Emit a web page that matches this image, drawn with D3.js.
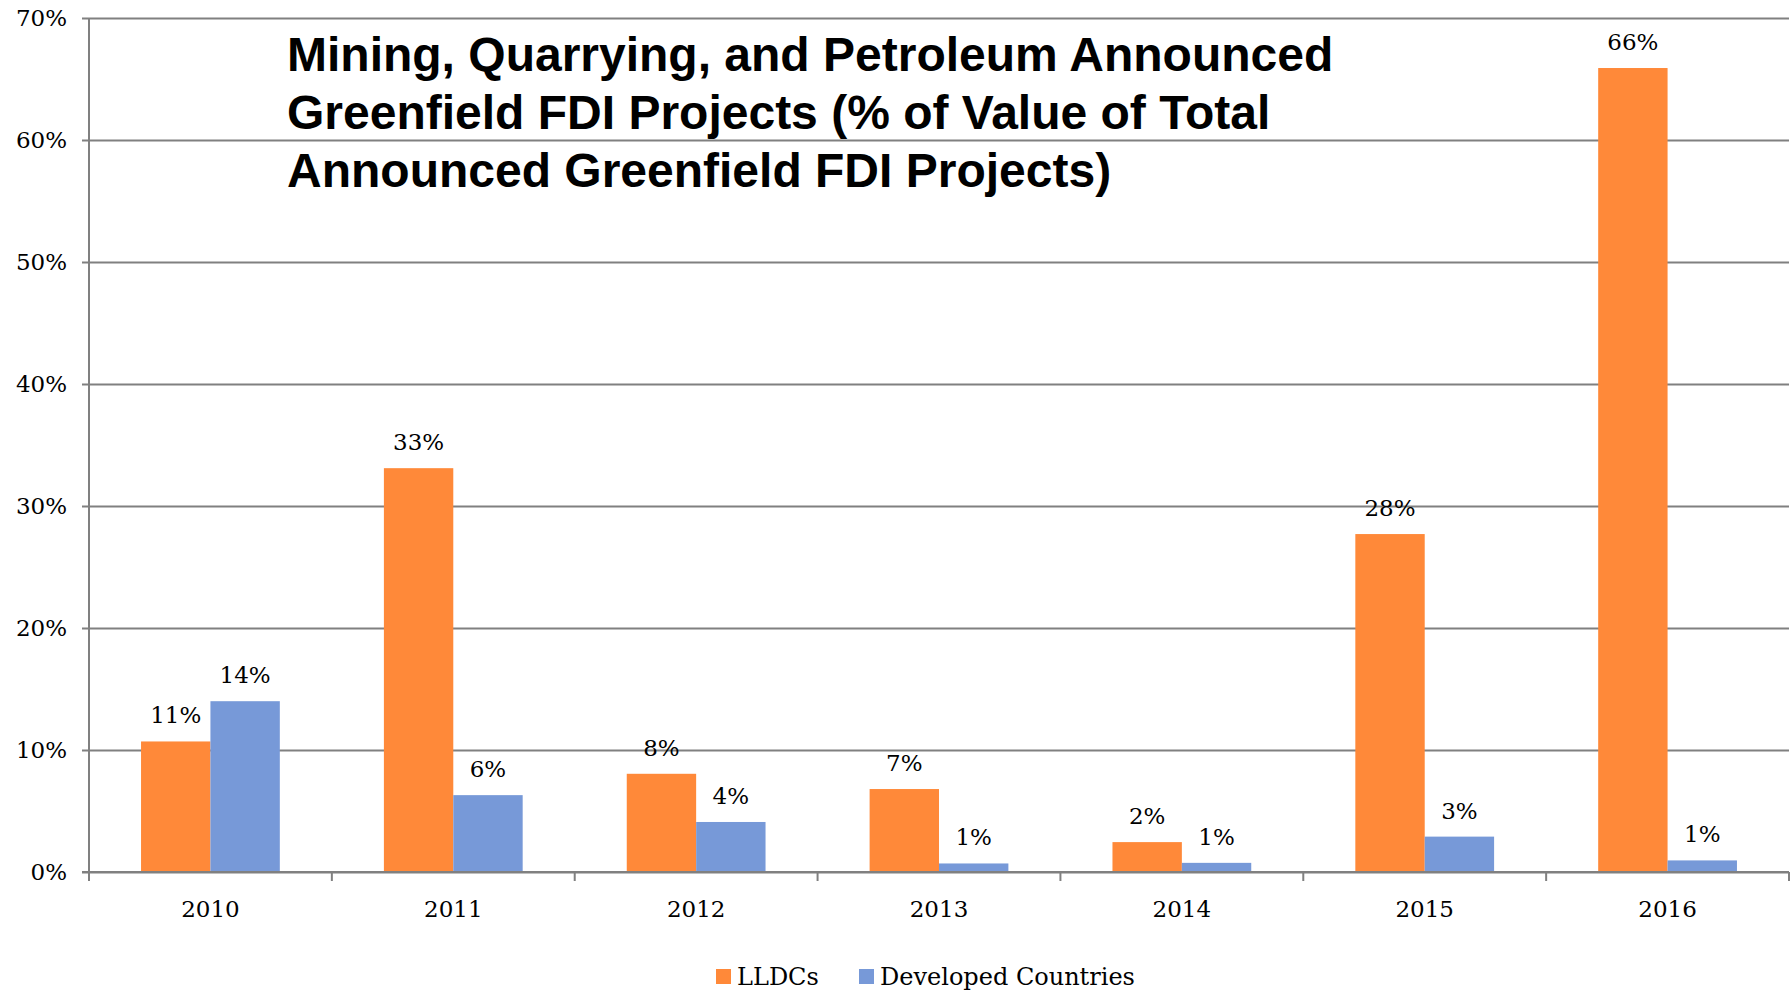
<!DOCTYPE html>
<meta charset="utf-8">
<script src="https://d3js.org/d3.v7.min.js"></script>
<style>
  body { margin: 0; background: #fff; }
  .tick text { font-family: "DejaVu Serif", serif; }
</style>
<body>
<svg id="chart" width="1791" height="991"></svg>
<script>
// data
var years = ["2010", "2011", "2012", "2013", "2014", "2015", "2016"];
var seriesNames = ["LLDCs", "Developed Countries"];
var lldcs = [10.7, 33.1, 8.05, 6.8, 2.45, 27.7, 65.9];
var developed = [14.0, 6.3, 4.1, 0.7, 0.75, 2.9, 0.95];
var lldcLabels = ["11%", "33%", "8%", "7%", "2%", "28%", "66%"];
var devLabels = ["14%", "6%", "4%", "1%", "1%", "3%", "1%"];
var yTicks = [0, 10, 20, 30, 40, 50, 60, 70];
var titleLines = ["Mining, Quarrying, and Petroleum Announced",
                  "Greenfield FDI Projects (% of Value of Total",
                  "Announced Greenfield FDI Projects)"];

var colors = {"LLDCs": "#ff8939", "Developed Countries": "#7799d8"};

var plotLeft = 89, plotRight = 1789, plotTop = 18, plotBottom = 872;

var svg = d3.select("#chart");

var x0 = d3.scaleBand().domain(years).range([plotLeft, plotRight]);
var bw = x0.bandwidth();
var gap = bw * 0.75 / 3.5;
var x1 = d3.scaleBand().domain(seriesNames).range([gap, bw - gap]);
var y = d3.scaleLinear().domain([0, 70]).range([plotBottom, plotTop]);

// gridlines + y axis labels
var yAxis = svg.append("g")
  .attr("transform", "translate(" + plotLeft + ",0)")
  .call(d3.axisLeft(y).tickValues(yTicks).tickSize(-(plotRight - plotLeft)).tickPadding(22)
    .tickFormat(function(d) { return d + "%"; }));
yAxis.select(".domain").remove();
yAxis.selectAll(".tick line").attr("stroke", "#808080").attr("stroke-width", 2).attr("x1", -7);
yAxis.selectAll(".tick text").attr("font-size", 23).attr("fill", "#000");

// y axis line
svg.append("line")
  .attr("x1", plotLeft).attr("x2", plotLeft).attr("y1", plotTop).attr("y2", plotBottom)
  .attr("stroke", "#808080").attr("stroke-width", 2);

var rows = years.map(function(yr, i) {
  return {year: yr, vals: [
    {s: "LLDCs", v: lldcs[i], label: lldcLabels[i]},
    {s: "Developed Countries", v: developed[i], label: devLabels[i]}
  ]};
});

var groups = svg.append("g").selectAll("g")
  .data(rows).enter().append("g")
  .attr("transform", function(d) { return "translate(" + x0(d.year) + ",0)"; });

groups.selectAll("rect")
  .data(function(d) { return d.vals; }).enter().append("rect")
  .attr("x", function(d) { return x1(d.s); })
  .attr("width", x1.bandwidth())
  .attr("y", function(d) { return y(d.v); })
  .attr("height", function(d) { return y(0) - y(d.v); })
  .attr("fill", function(d) { return colors[d.s]; });

groups.selectAll("text")
  .data(function(d) { return d.vals; }).enter().append("text")
  .attr("x", function(d) { return x1(d.s) + x1.bandwidth() / 2; })
  .attr("y", function(d) { return y(d.v) - 18; })
  .attr("text-anchor", "middle")
  .attr("font-family", "DejaVu Serif, serif")
  .attr("font-size", 23)
  .text(function(d) { return d.label; });

// x axis
var xAxis = svg.append("g")
  .attr("transform", "translate(0," + plotBottom + ")")
  .call(d3.axisBottom(x0).tickSize(0).tickPadding(29));
xAxis.select(".domain").remove();
xAxis.selectAll(".tick text").attr("font-size", 23).attr("fill", "#000");

svg.append("line")
  .attr("x1", plotLeft - 7).attr("x2", plotRight).attr("y1", plotBottom).attr("y2", plotBottom)
  .attr("stroke", "#808080").attr("stroke-width", 2);

svg.append("g").selectAll("line")
  .data(d3.range(years.length + 1)).enter().append("line")
  .attr("x1", function(i) { return plotLeft + i * bw; })
  .attr("x2", function(i) { return plotLeft + i * bw; })
  .attr("y1", plotBottom).attr("y2", plotBottom + 9)
  .attr("stroke", "#808080").attr("stroke-width", 2);

// title
svg.append("g").selectAll("text")
  .data(titleLines).enter().append("text")
  .attr("x", 287)
  .attr("y", function(d, i) { return 71 + i * 58; })
  .attr("font-family", "Liberation Sans, Arial, sans-serif")
  .attr("font-weight", "bold")
  .attr("font-size", 48)
  .text(function(d) { return d; });

// legend
var legendX = [716, 859];
var legend = svg.append("g").selectAll("g")
  .data(seriesNames).enter().append("g")
  .attr("transform", function(d, i) { return "translate(" + legendX[i] + ",969)"; });
legend.append("rect").attr("width", 15).attr("height", 15)
  .attr("fill", function(d) { return colors[d]; });
legend.append("text").attr("x", 21).attr("y", 16)
  .attr("font-family", "DejaVu Serif, serif").attr("font-size", 24)
  .text(function(d) { return d; });
</script>
</body>
